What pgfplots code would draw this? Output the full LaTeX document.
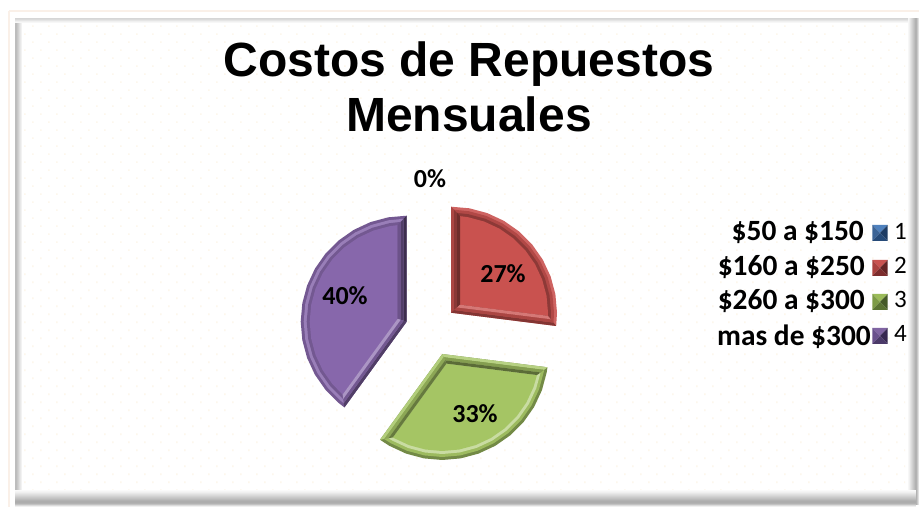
\documentclass[border=0pt]{standalone}
\usepackage{pgfplots}
\pgfplotsset{compat=1.18}
\usepackage{fontspec}
\setmainfont{Carlito}
\newfontfamily\arialfont{Liberation Sans}
\usetikzlibrary{patterns}
\pgfdeclarepatternformonly{cream}{\pgfqpoint{-1pt}{-1pt}}{\pgfqpoint{17pt}{17pt}}{\pgfqpoint{16pt}{16pt}}{%
  \pgfpathrectangle{\pgfqpoint{0pt}{0pt}}{\pgfqpoint{1.6pt}{1.6pt}}%
  \pgfpathrectangle{\pgfqpoint{8pt}{8pt}}{\pgfqpoint{1.6pt}{1.6pt}}%
  \pgfusepath{fill}}
\definecolor{rFace}{HTML}{C9524F}
\definecolor{gFace}{HTML}{A5C564}
\definecolor{pFace}{HTML}{8767AB}
\newcommand\poly[3]{\addplot[#1,fill=#2,draw=none,forget plot] coordinates {#3} -- cycle;}
\begin{document}
\begin{tikzpicture}
\path[use as bounding box] (0,0) rectangle (919pt,507pt);
\begin{scope}[x=1pt,y=-1pt,yshift=507pt]
  \fill[white] (0,0) rectangle (919,507);
  \draw[color={rgb,255:red,250;green,240;blue,232},line width=1.6pt] (9,11) -- (919,11);
  \draw[color={rgb,255:red,250;green,240;blue,232},line width=1.6pt] (9,11) -- (9,507);
  \fill[pattern=cream,pattern color={rgb,255:red,253;green,247;blue,236}] (22,22) rectangle (905,490);
  % frame bands, one pixel at a time: left, top, right, bottom
  \foreach \i/\k in {15/26,16/26,17/22,18/18,19/13,20/9,21/5}
    \fill[black!\k] (\i,18) rectangle (\i+1,505);
  \foreach \i/\k in {18/16,19/14,20/10,21/6,22/3}
    \fill[black!\k] (15,\i) rectangle (916,\i+1);
  \foreach \i/\k in {908/3,909/6,910/10,911/14,912/18,913/22,914/26,915/30,916/30,917/22,918/12}
    \fill[black!\k] (\i,18) rectangle (\i+1,505);
  \foreach \i/\k in {490/2,491/4,492/6,493/9,494/12,495/15,496/18,497/21,498/24,499/27,500/30,501/32,502/32,503/30,504/24,505/14,506/6}
    \fill[black!\k] (15,\i) rectangle (916,\i+1);
\end{scope}
\begin{axis}[
  at={(0,0)},anchor=south west,
  width=919pt,height=507pt,scale only axis,
  xmin=0,xmax=919,ymin=0,ymax=507,
  hide axis,clip=false,
  W1/.style={data cs=polar,shift={(451pt,194.3pt)}},
  W2/.style={data cs=polar,shift={(442.3pt,153pt)}},
  W3/.style={data cs=polar,shift={(406.7pt,185.3pt)}},
]
% --- red wedge, 27 %
\poly{W1}{rFace!90!white}{(41.4,0)(-7.2,106)(0,106)(10,106)(20,106)(30,106)(40,106)(50,106)(60,106)(70,106)(80,106)(90,106)}
\poly{W1}{rFace!88!black}{(41.4,4)(-5.53,103)(0,103)(10,103)(20,103)(30,103)(40,103)(50,103)(60,103)(70,103)(80,103)(88.33,103)}
\poly{W1}{rFace!70!black}{(41.4,8)(-3.76,100)(0,100)(10,100)(20,100)(30,100)(40,100)(50,100)(60,100)(70,100)(80,100)(86.56,100)}
\poly{W1}{rFace}{(41.4,12)(-1.88,97)(0,97)(10,97)(20,97)(30,97)(40,97)(50,97)(60,97)(70,97)(80,97)(84.68,97)}
\poly{W1}{rFace!85!black}{(41.4,0)(90,106)(88.33,103)(41.4,4)}
\poly{W1}{rFace!68!black}{(41.4,4)(88.33,103)(86.56,100)(41.4,8)}
\poly{W1}{rFace!55!black}{(41.4,8)(86.56,100)(84.68,97)(41.4,12)}
\poly{W1}{rFace!65!black}{(41.4,0)(-7.2,106)(-5.53,103)(41.4,4)}
\poly{W1}{rFace!85!black}{(41.4,4)(-5.53,103)(-3.76,100)(41.4,8)}
\poly{W1}{rFace!78!white}{(41.4,8)(-3.76,100)(-1.88,97)(41.4,12)}
% --- green wedge, 33 %
\poly{W2}{gFace!70!black}{(-66.6,0)(-126,106)(-120,106)(-110,106)(-100,106)(-90,106)(-80,106)(-70,106)(-60,106)(-50,106)(-40,106)(-30,106)(-20,106)(-10,106)(-7.2,106)}
\poly{W2}{gFace!95!black}{(-66.6,3.48)(-124.33,103)(-120,103)(-110,103)(-100,103)(-90,103)(-80,103)(-70,103)(-60,103)(-50,103)(-40,103)(-30,103)(-20,103)(-10,103)(-8.87,103)}
\poly{W2}{gFace!60!white}{(-66.6,6.97)(-122.56,100)(-120,100)(-110,100)(-100,100)(-90,100)(-80,100)(-70,100)(-60,100)(-50,100)(-40,100)(-30,100)(-20,100)(-10.64,100)}
\poly{W2}{gFace}{(-66.6,10.45)(-120.68,97)(-120,97)(-110,97)(-100,97)(-90,97)(-80,97)(-70,97)(-60,97)(-50,97)(-40,97)(-30,97)(-20,97)(-12.52,97)}
\poly{W2}{gFace!80!white}{(-66.6,0)(-7.2,106)(-8.87,103)(-66.6,3.48)}
\poly{W2}{gFace!80!black}{(-66.6,3.48)(-8.87,103)(-10.64,100)(-66.6,6.97)}
\poly{W2}{gFace!55!black}{(-66.6,6.97)(-10.64,100)(-12.52,97)(-66.6,10.45)}
\poly{W2}{gFace!85!white}{(-66.6,0)(-126,106)(-124.33,103)(-66.6,3.48)}
\poly{W2}{gFace!85!black}{(-66.6,3.48)(-124.33,103)(-122.56,100)(-66.6,6.97)}
\poly{W2}{gFace!62!black}{(-66.6,6.97)(-122.56,100)(-120.68,97)(-66.6,10.45)}
% --- purple wedge, 40 %
\poly{W3}{pFace!85!black}{(162,0)(90,106)(100,106)(110,106)(120,106)(130,106)(140,106)(150,106)(160,106)(170,106)(180,106)(190,106)(200,106)(210,106)(220,106)(230,106)(234,106)}
\poly{W3}{pFace!85!white}{(162,3.15)(91.67,103)(100,103)(110,103)(120,103)(130,103)(140,103)(150,103)(160,103)(170,103)(180,103)(190,103)(200,103)(210,103)(220,103)(230,103)(232.33,103)}
\poly{W3}{pFace!85!black}{(162,6.31)(93.44,100)(100,100)(110,100)(120,100)(130,100)(140,100)(150,100)(160,100)(170,100)(180,100)(190,100)(200,100)(210,100)(220,100)(230,100)(230.56,100)}
\poly{W3}{pFace}{(162,9.46)(95.32,97)(100,97)(110,97)(120,97)(130,97)(140,97)(150,97)(160,97)(170,97)(180,97)(190,97)(200,97)(210,97)(220,97)(228.68,97)}
\poly{W3}{pFace!45!black}{(162,0)(90,106)(91.67,103)(162,3.15)}
\poly{W3}{pFace!60!black}{(162,3.15)(91.67,103)(93.44,100)(162,6.31)}
\poly{W3}{pFace!80!black}{(162,6.31)(93.44,100)(95.32,97)(162,9.46)}
\poly{W3}{pFace!60!black}{(162,0)(234,106)(232.33,103)(162,3.15)}
\poly{W3}{pFace!85!black}{(162,3.15)(232.33,103)(230.56,100)(162,6.31)}
\poly{W3}{pFace!70!white}{(162,6.31)(230.56,100)(228.68,97)(162,9.46)}
% --- legend swatches
\addplot[fill={rgb,255:red,79;green,129;blue,189},draw=none,forget plot] coordinates {(872.3,282)(887.7,282)(880,274)} -- cycle;
\addplot[fill={rgb,255:red,60;green,100;blue,150},draw=none,forget plot] coordinates {(872.3,266)(872.3,282)(880,274)} -- cycle;
\addplot[fill={rgb,255:red,30;green,60;blue,100},draw=none,forget plot] coordinates {(887.7,266)(887.7,282)(880,274)} -- cycle;
\addplot[fill={rgb,255:red,38;green,74;blue,120},draw=none,forget plot] coordinates {(872.3,266)(887.7,266)(880,274)} -- cycle;
\addplot[fill={rgb,255:red,201;green,82;blue,79},draw=none,forget plot] coordinates {(872.3,247)(887.7,247)(880,239)} -- cycle;
\addplot[fill={rgb,255:red,170;green,65;blue,62},draw=none,forget plot] coordinates {(872.3,231)(872.3,247)(880,239)} -- cycle;
\addplot[fill={rgb,255:red,100;green,35;blue,35},draw=none,forget plot] coordinates {(887.7,231)(887.7,247)(880,239)} -- cycle;
\addplot[fill={rgb,255:red,125;green,45;blue,45},draw=none,forget plot] coordinates {(872.3,231)(887.7,231)(880,239)} -- cycle;
\addplot[fill={rgb,255:red,155;green,187;blue,89},draw=none,forget plot] coordinates {(872.3,213)(887.7,213)(880,205)} -- cycle;
\addplot[fill={rgb,255:red,125;green,155;blue,70},draw=none,forget plot] coordinates {(872.3,197)(872.3,213)(880,205)} -- cycle;
\addplot[fill={rgb,255:red,70;green,90;blue,40},draw=none,forget plot] coordinates {(887.7,197)(887.7,213)(880,205)} -- cycle;
\addplot[fill={rgb,255:red,90;green,115;blue,50},draw=none,forget plot] coordinates {(872.3,197)(887.7,197)(880,205)} -- cycle;
\addplot[fill={rgb,255:red,128;green,100;blue,162},draw=none,forget plot] coordinates {(872.3,179)(887.7,179)(880,171)} -- cycle;
\addplot[fill={rgb,255:red,105;green,80;blue,140},draw=none,forget plot] coordinates {(872.3,163)(872.3,179)(880,171)} -- cycle;
\addplot[fill={rgb,255:red,55;green,40;blue,80},draw=none,forget plot] coordinates {(887.7,163)(887.7,179)(880,171)} -- cycle;
\addplot[fill={rgb,255:red,75;green,58;blue,105},draw=none,forget plot] coordinates {(872.3,163)(887.7,163)(880,171)} -- cycle;
% --- texts
\node[font=\arialfont\bfseries\fontsize{48}{48}\selectfont,anchor=center] at (axis cs:469,443) {Costos de Repuestos};
\node[font=\arialfont\bfseries\fontsize{48}{48}\selectfont,anchor=center] at (axis cs:469,393) {Mensuales};
\node[font=\bfseries\fontsize{26}{26}\selectfont] at (axis cs:430,328) {0\%};
\node[font=\bfseries\fontsize{26}{26}\selectfont] at (axis cs:503,233) {27\%};
\node[font=\bfseries\fontsize{26}{26}\selectfont] at (axis cs:475,93) {33\%};
\node[font=\bfseries\fontsize{26}{26}\selectfont] at (axis cs:345,211) {40\%};
\node[font=\bfseries\fontsize{29.4}{29.4}\selectfont,anchor=base east,inner sep=0pt] at (axis cs:864,266) {\$50 a \$150};
\node[font=\bfseries\fontsize{29.4}{29.4}\selectfont,anchor=base east,inner sep=0pt] at (axis cs:865,231) {\$160 a \$250};
\node[font=\bfseries\fontsize{29.4}{29.4}\selectfont,anchor=base east,inner sep=0pt] at (axis cs:865,197) {\$260 a \$300};
\node[font=\bfseries\fontsize{29.4}{29.4}\selectfont,anchor=base east,inner sep=0pt] at (axis cs:871,161) {mas de \$300};
\node[font=\fontsize{25}{25}\selectfont,anchor=base west,inner sep=0pt] at (axis cs:894,267) {1};
\node[font=\fontsize{25}{25}\selectfont,anchor=base west,inner sep=0pt] at (axis cs:894,233) {2};
\node[font=\fontsize{25}{25}\selectfont,anchor=base west,inner sep=0pt] at (axis cs:894,199) {3};
\node[font=\fontsize{25}{25}\selectfont,anchor=base west,inner sep=0pt] at (axis cs:894,165) {4};
\end{axis}
\end{tikzpicture}
\end{document}
